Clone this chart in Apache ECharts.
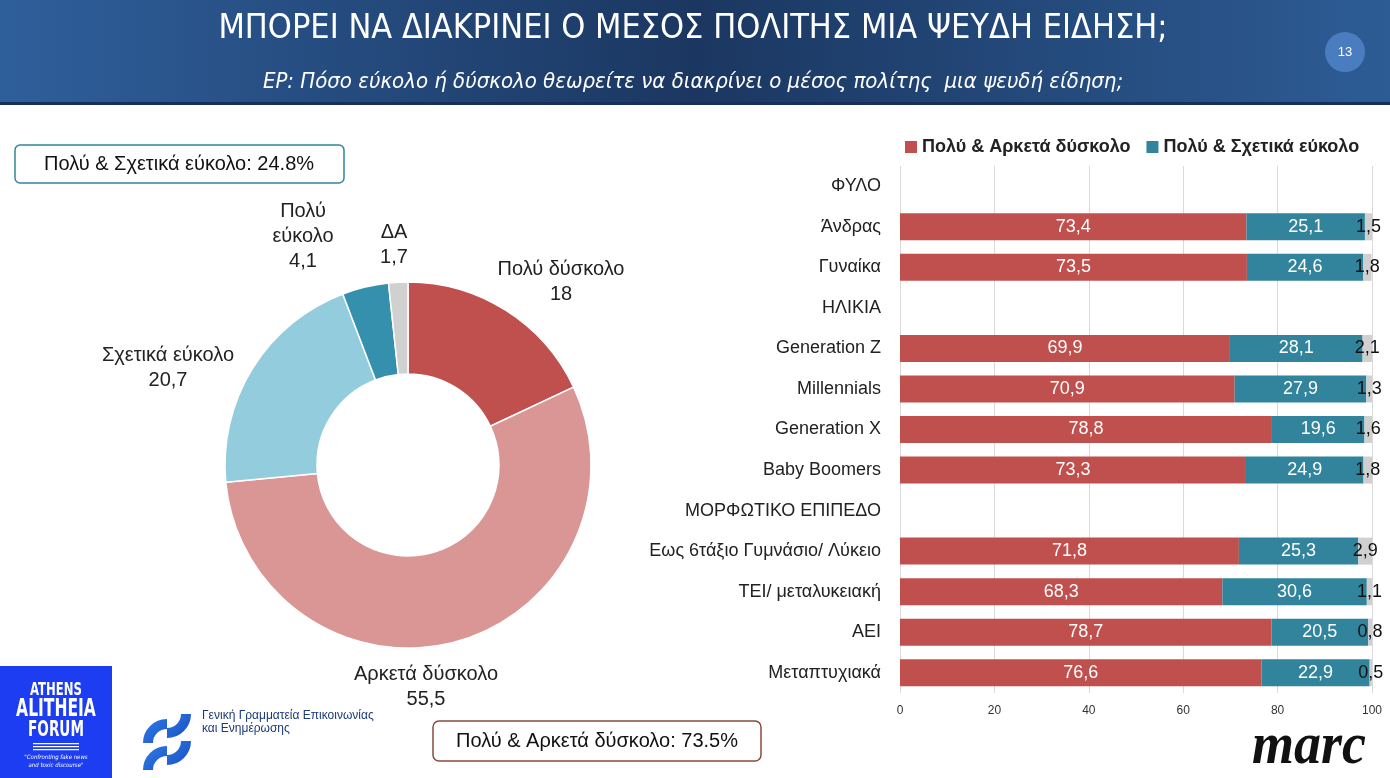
<!DOCTYPE html>
<html><head><meta charset="utf-8">
<script src="https://cdn.jsdelivr.net/npm/echarts@6/dist/echarts.min.js"></script>
<style>html,body{margin:0;padding:0;background:#fff}#c{width:1390px;height:778px}</style>
</head><body><div id="c"></div>
<script>
// ---- data ----
const pieNames = ['Πολύ δύσκολο', 'Αρκετά δύσκολο', 'Σχετικά εύκολο', 'Πολύ\nεύκολο', 'ΔΑ'];
const pieValues = [18, 55.5, 20.7, 4.1, 1.7];

const barCategories = ['ΦΥΛΟ', 'Άνδρας', 'Γυναίκα', 'ΗΛΙΚΙΑ', 'Generation Z', 'Millennials', 'Generation X', 'Baby Boomers', 'ΜΟΡΦΩΤΙΚΟ ΕΠΙΠΕΔΟ', 'Εως 6τάξιο Γυμνάσιο/ Λύκειο', 'ΤΕΙ/ μεταλυκειακή', 'ΑΕΙ', 'Μεταπτυχιακά'];
const hardValues = [null, 73.4, 73.5, null, 69.9, 70.9, 78.8, 73.3, null, 71.8, 68.3, 78.7, 76.6];
const easyValues = [null, 25.1, 24.6, null, 28.1, 27.9, 19.6, 24.9, null, 25.3, 30.6, 20.5, 22.9];
const dkValues = [null, 1.5, 1.8, null, 2.1, 1.3, 1.6, 1.8, null, 2.9, 1.1, 0.8, 0.5];
const seriesNames = ['Πολύ & Αρκετά δύσκολο', 'Πολύ & Σχετικά εύκολο', 'ΔΑ'];
const xTicks = [0, 20, 40, 60, 80, 100];

const titleText = 'ΜΠΟΡΕΙ ΝΑ ΔΙΑΚΡΙΝΕΙ Ο ΜΕΣΟΣ ΠΟΛΙΤΗΣ ΜΙΑ ΨΕΥΔΗ ΕΙΔΗΣΗ;';
const subtitleText = 'ΕΡ: Πόσο εύκολο ή δύσκολο θεωρείτε να διακρίνει ο μέσος πολίτης  μια ψευδή είδηση;';
const easyBoxText = 'Πολύ & Σχετικά εύκολο: 24.8%';
const hardBoxText = 'Πολύ & Αρκετά δύσκολο: 73.5%';

// ---- styling / layout (not data) ----
const pieColors = ['#c0504d', '#d99694', '#93cddd', '#3590ad', '#d0d0d0'];
const pieLabelAt = [[561, 282], [426, 687], [168, 368], [303, 236], [394, 245]];

const comma = v => String(v).replace('.', ',');
const FONT = 'Liberation Sans, Arial, sans-serif';
const NARROW = 'DejaVu Sans Condensed, sans-serif';

const chart = echarts.init(document.getElementById('c'));

const barLabel = (color) => ({
  show: true, position: 'inside', color: color, fontSize: 18, fontFamily: FONT,
  formatter: p => (p.value == null ? '' : comma(p.value))
});

const logoBlue = new echarts.graphic.LinearGradient(0, 0, 1, 1, [{ offset: 0, color: '#2f7be6' }, { offset: 1, color: '#1b4fc4' }]);
const quarter = (cx, cy, a0, a1) => ({ type: 'arc', shape: { cx, cy, r: 19, startAngle: a0, endAngle: a1 }, style: { stroke: logoBlue, lineWidth: 10, fill: null, lineCap: 'butt' } });
const logoText = (y, txt, size) => ({ type: 'text', x: 56, y: y, scaleX: 0.72, style: { text: txt, fill: '#fff', font: 'bold ' + size + 'px ' + NARROW, align: 'center', verticalAlign: 'middle' } });

chart.setOption({
  animation: false,
  textStyle: { fontFamily: FONT },
  graphic: [
    { type: 'rect', shape: { x: 0, y: 0, width: 1390, height: 104 }, silent: true,
      style: { fill: new echarts.graphic.LinearGradient(0, 0, 1, 0, [
        { offset: 0, color: '#2f5f9b' }, { offset: 0.5, color: '#1b3761' }, { offset: 1, color: '#2d5c95' }]) } },
    { type: 'rect', shape: { x: 0, y: 102, width: 1390, height: 3 }, style: { fill: '#17305a' } },
    { type: 'text', x: 693, y: 29, style: { text: titleText, fill: '#fff', font: '34px ' + NARROW, align: 'center', verticalAlign: 'middle' } },
    { type: 'text', x: 693, y: 82, style: { text: subtitleText, fill: '#fff', font: 'italic 22px ' + NARROW, align: 'center', verticalAlign: 'middle' } },
    { type: 'circle', shape: { cx: 1345, cy: 52, r: 20 }, style: { fill: '#4a7dc0' } },
    { type: 'text', x: 1345, y: 52, style: { text: '13', fill: '#fff', font: '13px ' + FONT, align: 'center', verticalAlign: 'middle' } },
    // summary boxes
    { type: 'rect', shape: { x: 15, y: 145, width: 329, height: 38, r: 5 }, style: { fill: '#fff', stroke: '#31859c', lineWidth: 1.5 } },
    { type: 'text', x: 179, y: 164, style: { text: easyBoxText, fill: '#111', font: '20px ' + FONT, align: 'center', verticalAlign: 'middle' } },
    { type: 'rect', shape: { x: 433, y: 721, width: 328, height: 40, r: 6 }, style: { fill: '#fff', stroke: '#8a4b3c', lineWidth: 1.5 } },
    { type: 'text', x: 597, y: 741, style: { text: hardBoxText, fill: '#111', font: '20px ' + FONT, align: 'center', verticalAlign: 'middle' } },
    // Athens Alitheia Forum logo
    { type: 'rect', shape: { x: 0, y: 666, width: 112, height: 112 }, style: { fill: '#1c3df2' } },
    logoText(690, 'ATHENS', 18),
    logoText(710, 'ALITHEIA', 24),
    logoText(731, 'FORUM', 21),
    { type: 'rect', shape: { x: 33, y: 743, width: 46, height: 1.2 }, style: { fill: '#fff' } },
    { type: 'rect', shape: { x: 33, y: 746, width: 46, height: 1.2 }, style: { fill: '#fff' } },
    { type: 'rect', shape: { x: 33, y: 749, width: 46, height: 1.2 }, style: { fill: '#fff' } },
    { type: 'text', x: 56, y: 761, style: { text: '"Confronting fake news\nand toxic discourse"', fill: '#fff', font: 'italic 6px ' + NARROW, align: 'center', verticalAlign: 'middle', lineHeight: 8 } },
    // ΓΓΕΕ logo
    quarter(167, 743, Math.PI, Math.PI * 1.5),
    quarter(167, 714, 0, Math.PI * 0.5),
    quarter(167, 770, Math.PI, Math.PI * 1.5),
    quarter(167, 741, 0, Math.PI * 0.5),
    { type: 'text', x: 202, y: 722, style: { text: 'Γενική Γραμματεία Επικοινωνίας\nκαι Ενημέρωσης', fill: '#1b3a7a', font: '12px ' + FONT, verticalAlign: 'middle', lineHeight: 13 } },
    // marc
    { type: 'text', x: 1309, y: 748, scaleY: 1.1, style: { text: 'marc', fill: '#111', font: 'italic bold 54px Liberation Serif, DejaVu Serif, serif', align: 'center', verticalAlign: 'middle' } }
  ],
  legend: {
    data: seriesNames.slice(0, 2), left: 900, top: 133, icon: 'rect', itemWidth: 12, itemHeight: 12, itemGap: 16,
    textStyle: { fontSize: 18, fontWeight: 'bold', color: '#222', fontFamily: FONT }
  },
  grid: { left: 900, right: 18, top: 166, bottom: 85 },
  xAxis: {
    type: 'value', min: 0, max: 100, interval: 20,
    axisLine: { show: false }, axisTick: { show: false },
    axisLabel: { color: '#333', fontSize: 12, margin: 12, formatter: v => (xTicks.includes(v) ? String(v) : '') },
    splitLine: { lineStyle: { color: '#d9d9d9' } }
  },
  yAxis: {
    type: 'category', data: barCategories, inverse: true,
    axisLine: { show: false }, axisTick: { show: false },
    axisLabel: { color: '#222', fontSize: 18, margin: 19 }
  },
  series: [
    { name: seriesNames[0], type: 'bar', stack: 't', barWidth: 27, data: hardValues, itemStyle: { color: '#c0504d' }, label: barLabel('#fff') },
    { name: seriesNames[1], type: 'bar', stack: 't', barWidth: 27, data: easyValues, itemStyle: { color: '#31849b' }, label: barLabel('#fff') },
    { name: seriesNames[2], type: 'bar', stack: 't', barWidth: 27, data: dkValues, itemStyle: { color: '#d0d0d0' }, label: barLabel('#111') },
    {
      type: 'pie', center: [408, 465], radius: [91, 183], startAngle: 90, clockwise: true,
      data: pieNames.map((n, i) => ({ name: n, value: pieValues[i], itemStyle: { color: pieColors[i] } })),
      itemStyle: { borderColor: '#fff', borderWidth: 1.5 },
      label: { show: true, position: 'outside', color: '#222', fontSize: 20, lineHeight: 25, align: 'center',
        formatter: p => p.name + '\n' + comma(p.value) },
      labelLine: { show: false },
      labelLayout: p => ({ x: pieLabelAt[p.dataIndex][0], y: pieLabelAt[p.dataIndex][1], align: 'center', verticalAlign: 'middle' }),
      emphasis: { disabled: true }
    }
  ]
});
</script></body></html>
